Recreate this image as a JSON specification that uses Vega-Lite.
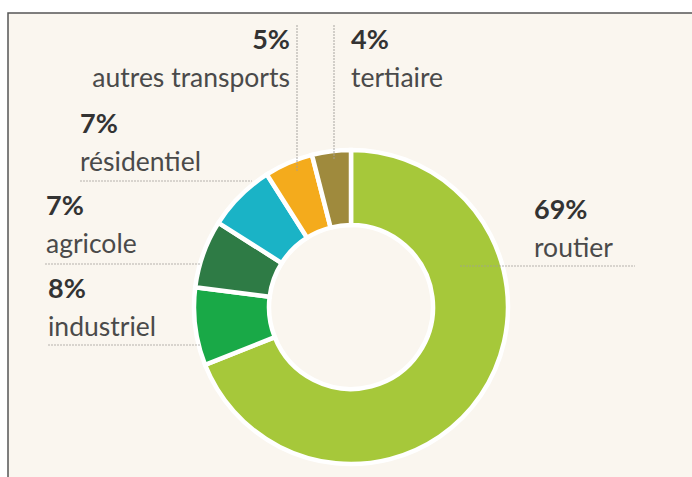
{
  "$schema": "https://vega.github.io/schema/vega-lite/v6.json",
  "width": 692,
  "height": 477,
  "autosize": {"type": "none"},
  "padding": 0,
  "background": "#ffffff",
  "config": {"view": {"stroke": null}},
  "datasets": {
    "parts": [
      {"secteur": "routier", "part": 69, "rang": 1},
      {"secteur": "industriel", "part": 8, "rang": 2},
      {"secteur": "agricole", "part": 7, "rang": 3},
      {"secteur": "résidentiel", "part": 7, "rang": 4},
      {"secteur": "autres transports", "part": 5, "rang": 5},
      {"secteur": "tertiaire", "part": 4, "rang": 6}
    ],
    "etiquettes": [
      {"secteur": "routier", "part": 69, "px": 534, "py": 257},
      {"secteur": "industriel", "part": 8, "px": 48, "py": 336},
      {"secteur": "agricole", "part": 7, "px": 46, "py": 253},
      {"secteur": "résidentiel", "part": 7, "px": 80, "py": 171},
      {"secteur": "autres transports", "part": 5, "px": 290, "py": 87},
      {"secteur": "tertiaire", "part": 4, "px": 351, "py": 87}
    ],
    "reperes": [
      {"secteur": "routier", "xa": 460, "xb": 635, "ya": 266, "yb": 266},
      {"secteur": "industriel", "xa": 48, "xb": 200, "ya": 345, "yb": 345},
      {"secteur": "agricole", "xa": 45, "xb": 200, "ya": 264, "yb": 264},
      {"secteur": "résidentiel", "xa": 80, "xb": 252, "ya": 181, "yb": 181},
      {"secteur": "autres transports", "xa": 297, "xb": 297, "ya": 25, "yb": 172},
      {"secteur": "tertiaire", "xa": 334, "xb": 334, "ya": 25, "yb": 160}
    ]
  },
  "layer": [
    {
      "data": {"values": [{}]},
      "mark": {"type": "rect", "fill": "#faf6ef", "stroke": "#555555", "strokeWidth": 1.5},
      "encoding": {
        "x": {"datum": 8, "type": "quantitative", "scale": {"domain": [0, 692], "nice": false, "zero": false}, "axis": null},
        "x2": {"datum": 710},
        "y": {"datum": 13, "type": "quantitative", "scale": {"domain": [0, 477], "nice": false, "zero": false, "reverse": true}, "axis": null},
        "y2": {"datum": 500}
      }
    },
    {
      "data": {"name": "parts"},
      "mark": {"type": "arc", "outerRadius": 157, "innerRadius": 82, "stroke": "#ffffff", "strokeWidth": 4.5},
      "encoding": {
        "theta": {"field": "part", "type": "quantitative", "stack": true},
        "order": {"field": "rang", "type": "quantitative"},
        "color": {
          "field": "secteur",
          "type": "nominal",
          "legend": null,
          "scale": {
            "domain": ["routier", "industriel", "agricole", "résidentiel", "autres transports", "tertiaire"],
            "range": ["#a6c83a", "#19a947", "#2e7b45", "#1ab3c6", "#f4ab1c", "#9f8a3d"]
          }
        },
        "x": {"datum": 351, "type": "quantitative"},
        "y": {"datum": 307, "type": "quantitative"}
      }
    },
    {
      "data": {"name": "reperes"},
      "mark": {"type": "rule", "stroke": "#a09e98", "strokeWidth": 1.2, "strokeDash": [2, 1], "opacity": 0.75},
      "encoding": {
        "x": {"field": "xa", "type": "quantitative"},
        "x2": {"field": "xb"},
        "y": {"field": "ya", "type": "quantitative"},
        "y2": {"field": "yb"}
      }
    },
    {
      "data": {"name": "etiquettes"},
      "transform": [
        {"calculate": "datum.part + '%'", "as": "pourcentage"},
        {"filter": "datum.secteur !== 'autres transports'"}
      ],
      "layer": [
        {
          "mark": {"type": "text", "align": "left", "baseline": "alphabetic", "font": "Lato", "fontSize": 26.5, "fill": "#4a4a4a"},
          "encoding": {
            "x": {"field": "px", "type": "quantitative"},
            "y": {"field": "py", "type": "quantitative"},
            "text": {"field": "secteur"}
          }
        },
        {
          "mark": {"type": "text", "align": "left", "baseline": "alphabetic", "font": "Lato", "fontSize": 27, "fontWeight": "bold", "fill": "#333333", "dy": -38},
          "encoding": {
            "x": {"field": "px", "type": "quantitative"},
            "y": {"field": "py", "type": "quantitative"},
            "text": {"field": "pourcentage"}
          }
        }
      ]
    },
    {
      "data": {"name": "etiquettes"},
      "transform": [
        {"calculate": "datum.part + '%'", "as": "pourcentage"},
        {"filter": "datum.secteur === 'autres transports'"}
      ],
      "layer": [
        {
          "mark": {"type": "text", "align": "right", "baseline": "alphabetic", "font": "Lato", "fontSize": 26.5, "fill": "#4a4a4a"},
          "encoding": {
            "x": {"field": "px", "type": "quantitative"},
            "y": {"field": "py", "type": "quantitative"},
            "text": {"field": "secteur"}
          }
        },
        {
          "mark": {"type": "text", "align": "right", "baseline": "alphabetic", "font": "Lato", "fontSize": 27, "fontWeight": "bold", "fill": "#333333", "dy": -38},
          "encoding": {
            "x": {"field": "px", "type": "quantitative"},
            "y": {"field": "py", "type": "quantitative"},
            "text": {"field": "pourcentage"}
          }
        }
      ]
    }
  ]
}
